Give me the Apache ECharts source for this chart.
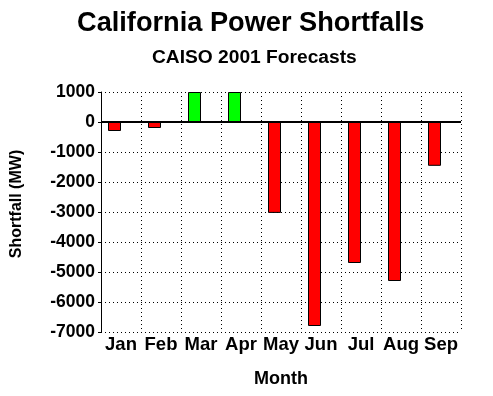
<!DOCTYPE html>
<html>
<head>
<meta charset="utf-8">
<script src="https://cdn.jsdelivr.net/npm/echarts@6/dist/echarts.min.js"></script>
<style>html,body{margin:0;padding:0;background:#fff}#c{width:493px;height:396px}</style>
</head>
<body>
<div id="c"></div>
<script>
var categories = ['Jan','Feb','Mar','Apr','May','Jun','Jul','Aug','Sep'];
var shortfall = [-300, -200, 1000, 1000, -3030, -6800, -4700, -5300, -1460];
var yTicks = {min: -7000, max: 1000, interval: 1000};

var FONT = '"Liberation Sans", Arial, sans-serif';
var chart = echarts.init(document.getElementById('c'), null, {renderer: 'canvas'});
chart.setOption({
  animation: false,
  backgroundColor: '#ffffff',
  title: [
    {text: 'California Power Shortfalls', left: 72, top: 5,
     textStyle: {fontFamily: FONT, fontWeight: 'bold', fontSize: 27.2, color: '#000'}},
    {text: 'CAISO 2001 Forecasts', left: 147, top: 43,
     textStyle: {fontFamily: FONT, fontWeight: 'bold', fontSize: 19.2, color: '#000'}}
  ],
  graphic: [{
    type: 'text', x: 17, y: 204, rotation: Math.PI / 2,
    style: {text: 'Shortfall (MW)', fontFamily: FONT, fontWeight: 'bold', fontSize: 16,
            fill: '#000', align: 'center', verticalAlign: 'middle'}
  }],
  grid: {left: 101, right: 32, top: 92, bottom: 64, containLabel: false},
  xAxis: {
    type: 'category',
    data: categories,
    name: 'Month',
    nameLocation: 'middle',
    nameGap: 38,
    nameTextStyle: {fontFamily: FONT, fontWeight: 'bold', fontSize: 18, color: '#000'},
    axisLine: {show: false},
    axisTick: {show: false},
    axisLabel: {fontFamily: FONT, fontWeight: 'bold', fontSize: 18.5, color: '#000', margin: 3, interval: 0},
    splitLine: {show: true, interval: 0, lineStyle: {color: '#000', type: [1, 3], width: 1}}
  },
  yAxis: {
    type: 'value',
    min: yTicks.min, max: yTicks.max, interval: yTicks.interval,
    axisLine: {show: true, lineStyle: {color: '#000', width: 1}},
    axisTick: {show: true, length: 3, lineStyle: {color: '#000'}},
    axisLabel: {fontFamily: FONT, fontWeight: 'bold', fontSize: 17.5, color: '#000', margin: 6,
                formatter: function (v) { return String(v); }},
    splitLine: {show: true, lineStyle: {color: '#000', type: [1, 3], width: 1}}
  },
  series: [
    {
      type: 'bar',
      barWidth: 13,
      barGap: '0%',
      data: shortfall.map(function (v) {
        return {value: v, itemStyle: {color: v >= 0 ? '#00ff00' : '#ff0000'}};
      }),
      itemStyle: {borderColor: '#000', borderWidth: 1},
      markLine: {
        silent: true, symbol: 'none', label: {show: false},
        lineStyle: {color: '#000', type: 'solid', width: 2},
        data: [{yAxis: 0}]
      }
    },
    {type: 'bar', barWidth: 13, barGap: '0%', data: categories.map(function(){return null;})}
  ]
});
</script>
</body>
</html>
